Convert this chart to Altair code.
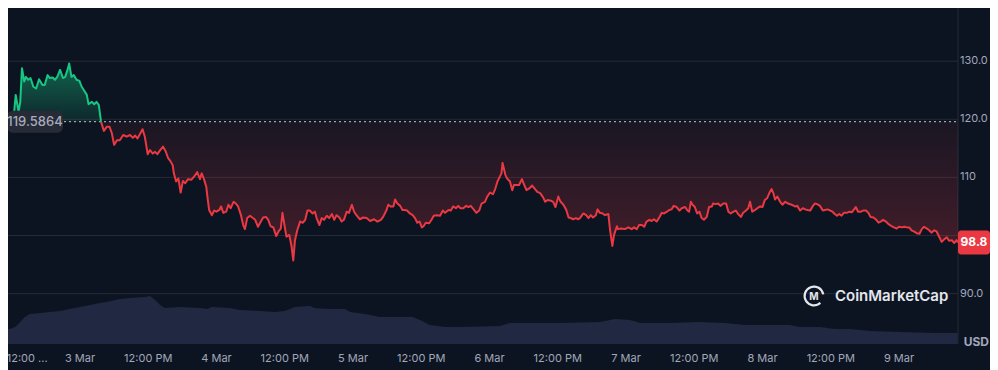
import altair as alt
import pandas as pd

# ---------------- data ----------------
# hours since 3 Mar 00:00
HOURS = [
    -13.0, -11.7, -11.3, -10.8, -10.5, -10.2, -9.8, -9.5, -9.1, -8.7,
    -8.2, -7.7, -7.2, -6.6, -6.2, -5.7, -5.3, -4.8, -4.4, -4.0,
    -3.5, -3.0, -2.6, -2.2, -1.9, -1.5, -1.1, -0.6, -0.1, 0.3,
    0.7, 1.2, 1.5, 2.1, 2.5, 2.9, 3.3, 3.7, 4.2, 4.7,
    5.2, 5.6, 6.0, 6.5, 7.0, 7.6, 8.2, 8.8, 9.3, 9.7,
    10.1, 10.5, 11.0, 11.4, 11.9, 12.3, 12.8, 13.2, 13.6, 14.1,
    14.6, 15.1, 15.5, 15.9, 16.3, 16.5, 16.9, 17.3, 17.7, 18.1,
    18.5, 19.0, 19.6, 20.2, 20.6, 21.1, 21.4, 21.8, 22.2, 22.4,
    22.7, 23.2, 23.6, 24.0, 24.5, 24.8, 25.2, 25.7, 26.1, 26.5,
    27.0, 27.4, 27.8, 28.3, 28.7, 29.0, 29.4, 29.9, 30.4, 30.8,
    31.3, 31.8, 32.2, 32.7, 33.1, 33.5, 34.0, 34.5, 34.9, 35.3,
    35.6, 36.0, 36.3, 36.8, 37.2, 37.5, 37.8, 38.2, 38.7, 39.2,
    39.6, 40.0, 40.4, 40.9, 41.3, 41.6, 42.1, 42.5, 42.9, 43.4,
    43.8, 44.3, 44.7, 45.1, 45.6, 46.0, 46.4, 46.9, 47.3, 47.8,
    48.2, 48.6, 49.2, 49.8, 50.4, 51.0, 51.7, 52.3, 52.9, 53.3,
    53.9, 54.2, 54.6, 55.1, 55.4, 55.8, 56.3, 56.7, 57.1, 57.5,
    58.0, 58.5, 58.9, 59.3, 59.7, 60.1, 60.4, 60.8, 61.4, 61.8,
    62.2, 62.7, 63.3, 63.8, 64.2, 64.8, 65.2, 65.6, 66.1, 66.5,
    66.9, 67.4, 67.9, 68.3, 68.7, 69.2, 69.7, 70.2, 70.6, 71.2,
    71.6, 72.1, 72.6, 73.0, 73.4, 73.8, 74.1, 74.3, 74.5, 74.8,
    75.1, 75.6, 76.0, 76.3, 76.8, 77.2, 77.7, 78.1, 78.5, 79.0,
    79.5, 79.9, 80.4, 80.9, 81.4, 81.8, 82.2, 82.8, 83.2, 83.6,
    84.1, 84.5, 85.0, 85.5, 85.9, 86.3, 86.7, 87.2, 87.6, 87.9,
    88.5, 89.0, 89.4, 89.8, 90.2, 90.7, 91.0, 91.4, 91.9, 92.3,
    92.9, 93.2, 93.6, 93.9, 94.4, 94.6, 95.2, 95.8, 96.4, 97.0,
    97.4, 97.9, 98.3, 98.8, 99.2, 99.6, 100.1, 100.5, 100.9, 101.4,
    101.9, 102.3, 102.7, 103.2, 103.6, 104.0, 104.4, 104.9, 105.4, 105.8,
    106.4, 106.8, 107.1, 107.4, 107.7, 108.1, 108.5, 108.9, 109.3, 109.7,
    110.2, 110.6, 111.1, 111.3, 111.8, 112.2, 112.6, 113.1, 113.6, 114.0,
    114.4, 114.9, 115.3, 115.7, 116.2, 116.6, 117.1, 117.5, 117.8, 118.2,
    118.7, 119.1, 119.6, 120.0, 120.4, 120.8, 121.2, 121.6, 121.9, 122.2,
    122.6, 123.1, 123.5, 124.0, 124.5, 125.1, 125.7, 126.1, 126.6, 127.1,
    127.5, 127.9, 128.4, 128.8, 129.2, 129.6, 130.1, 130.6, 131.0, 131.4,
    131.9, 132.3, 132.7, 133.1, 133.5, 133.9, 134.3, 134.8, 135.3, 135.7,
    136.1, 136.4, 136.8, 137.3, 137.7, 138.2, 138.6, 139.0, 139.5, 140.0,
    140.4, 140.8, 141.2, 141.7, 142.1, 142.7, 143.1, 143.6, 144.0, 144.5,
    144.9, 145.4, 145.8, 146.2, 146.6, 147.1, 147.6, 148.0, 148.4, 148.9,
    149.3, 149.7, 150.2, 150.6, 151.1, 151.5, 151.9, 152.4, 152.8, 153.3,
    153.7, 154.1, 154.35,
]
PRICES = [
    119.6, 119.9, 124.2, 121.3, 123.0, 128.8, 126.5, 127.3, 126.8, 127.1,
    125.6, 125.3, 126.9, 125.9, 125.9, 127.6, 127.1, 127.2, 126.8, 127.3,
    128.5, 127.1, 127.3, 128.5, 129.6, 127.3, 127.6, 126.8, 126.6, 125.6,
    125.0, 124.2, 122.6, 123.0, 122.6, 123.0, 122.5, 119.6, 118.0, 118.7,
    118.7, 117.6, 115.6, 116.4, 116.4, 117.3, 117.0, 117.3, 116.8, 117.2,
    116.7, 117.4, 118.3, 117.0, 114.0, 114.7, 114.1, 114.4, 114.0, 114.7,
    115.3, 114.4, 113.3, 112.8, 112.1, 110.7, 109.3, 109.8, 107.4, 109.4,
    109.0, 109.7, 109.6, 110.3, 110.9, 109.7, 110.7, 109.7, 108.4, 106.7,
    104.4, 103.5, 104.3, 104.1, 104.4, 105.0, 103.9, 104.1, 105.3, 104.7,
    105.8, 105.5, 105.0, 103.5, 101.8, 101.1, 103.0, 103.4, 103.0, 102.7,
    101.5, 102.4, 103.1, 103.2, 102.7, 101.6, 101.4, 99.9, 100.7, 101.2,
    103.9, 101.5, 99.8, 100.1, 98.1, 95.7, 99.2, 100.9, 102.4, 102.2,
    102.7, 104.3, 104.3, 103.8, 104.1, 103.0, 101.8, 103.0, 102.7, 103.4,
    103.0, 103.7, 102.7, 103.5, 103.1, 102.4, 102.7, 104.1, 103.9, 105.3,
    104.1, 103.5, 102.8, 103.1, 103.0, 102.5, 102.8, 102.4, 102.7, 103.2,
    104.4, 105.3, 105.0, 105.0, 106.2, 105.5, 105.1, 104.4, 104.4, 104.3,
    103.8, 103.5, 103.0, 102.2, 102.4, 101.4, 101.6, 102.2, 102.1, 102.7,
    103.4, 103.5, 103.4, 104.3, 103.9, 104.4, 104.3, 105.0, 104.7, 105.1,
    104.7, 104.7, 105.1, 104.9, 105.1, 104.5, 103.9, 104.3, 105.5, 105.8,
    106.7, 107.4, 107.1, 108.0, 109.3, 110.1, 110.7, 112.5, 111.6, 110.4,
    109.8, 109.3, 107.8, 108.7, 108.7, 108.7, 109.7, 108.7, 107.8, 108.1,
    108.6, 108.1, 107.5, 107.3, 106.6, 105.8, 106.1, 106.0, 105.8, 104.9,
    106.7, 105.8, 105.3, 104.4, 103.1, 103.0, 102.8, 103.0, 102.8, 103.0,
    103.8, 103.5, 103.0, 103.5, 103.1, 103.5, 104.5, 103.9, 103.8, 103.5,
    103.7, 100.9, 98.2, 100.1, 101.6, 101.1, 101.2, 101.1, 101.4, 101.1,
    101.4, 101.1, 101.8, 101.8, 101.5, 102.4, 102.7, 102.5, 102.8, 102.4,
    103.2, 103.9, 103.8, 104.1, 104.4, 104.5, 105.1, 104.9, 104.3, 104.7,
    104.9, 104.3, 104.1, 105.8, 105.3, 104.9, 103.8, 104.1, 103.0, 102.7,
    103.2, 104.9, 105.0, 105.5, 105.4, 105.5, 105.1, 105.5, 105.5, 104.1,
    103.8, 104.1, 104.3, 103.7, 103.2, 103.9, 104.3, 104.7, 105.8, 104.1,
    104.4, 104.7, 105.0, 104.9, 106.1, 106.4, 107.3, 108.0, 107.3, 106.2,
    106.7, 105.8, 105.3, 105.8, 105.5, 105.3, 105.0, 105.1, 104.3, 104.7,
    104.5, 104.4, 104.3, 105.0, 105.5, 105.4, 105.1, 104.3, 104.4, 104.5,
    104.3, 104.1, 103.7, 103.4, 103.7, 103.4, 103.9, 103.9, 104.1, 104.0,
    104.5, 104.9, 104.1, 104.1, 104.3, 104.3, 103.9, 103.2, 103.1, 102.7,
    102.2, 102.4, 102.7, 102.4, 102.0, 101.6, 101.4, 101.2, 101.5, 101.4,
    101.5, 101.4, 101.4, 100.9, 100.7, 100.4, 100.3, 101.1, 101.5, 101.2,
    100.9, 100.5, 100.9, 100.7, 99.7, 98.9, 99.3, 99.7, 99.1, 99.2,
    98.7, 99.2, 98.8,
]
VOL_HOURS = [
    -13.3, -12.3, -11.4, -10.5, -9.7, -8.8, -7.0, -5.3, -3.5, -1.8,
    0.0, 1.8, 3.5, 4.7, 7.0, 8.8, 11.4, 12.3, 13.2, 14.1,
    14.9, 17.6, 21.1, 22.3, 23.2, 26.4, 28.1, 31.6, 34.3, 36.0,
    37.8, 40.4, 41.3, 44.0, 46.6, 47.5, 50.1, 52.7, 56.3, 58.5,
    59.8, 61.5, 64.2, 66.8, 73.8, 75.6, 79.1, 84.4, 91.4, 93.2,
    94.1, 96.7, 98.5, 103.7, 109.0, 113.4, 116.9, 121.3, 124.8, 126.6,
    130.1, 132.7, 135.4, 138.9, 144.2, 150.3, 154.3,
]
VOLUMES = [
    15, 15, 17, 22, 27, 30, 31, 32, 33, 35,
    37, 39, 41, 42, 45, 46, 47, 48, 44, 39,
    36, 37, 36, 35, 37, 36, 34, 33, 32, 33,
    37, 38, 36, 35, 35, 32, 30, 27, 27, 27,
    24, 19, 17, 17, 18, 21, 21, 21, 22, 24,
    25, 24, 21, 21, 22, 21, 19, 19, 19, 17,
    17, 15, 15, 13, 12, 11, 11,
]
BASELINE = 119.5864
LAST_PRICE = 98.8
X_TICKS = [-12, 0, 12, 24, 36, 48, 60, 72, 84, 96, 108, 120, 132, 144]
X_LABELS = ["12:00 ...", "3 Mar", "12:00 PM", "4 Mar", "12:00 PM", "5 Mar",
            "12:00 PM", "6 Mar", "12:00 PM", "7 Mar", "12:00 PM", "8 Mar",
            "12:00 PM", "9 Mar"]
Y_TICKS = [90, 100, 110, 120, 130, 140]
Y_LABELS = ["90.0", "", "110", "120.0", "130.0", ""]

X_DOMAIN = [-13.36, 154.37]
Y_DOMAIN = [81.33, 140.53]
VOL_MAX = 344  # volume value that would fill the whole panel height

# ---------------- style ----------------
BG = "#0d1421"
GREEN = "#16c784"
RED = "#ea3943"
GRID = "#262a35"
LABEL = "#a1a7bb"
FONT = "Inter"
W, H = 954, 344

df = pd.DataFrame({"h": HOURS, "price": PRICES})
df["base"] = BASELINE
df["hi"] = df["price"].clip(lower=BASELINE)
df["lo"] = df["price"].clip(upper=BASELINE)
cut = df.index[df["price"] >= BASELINE].max()
up_df = df.loc[:cut]
down_df = df.loc[cut:]
vol_df = pd.DataFrame({"h": VOL_HOURS, "vol": VOLUMES})
xt_df = pd.DataFrame({"h": X_TICKS, "t": X_LABELS})
yt_df = pd.DataFrame({"v": Y_TICKS, "t": Y_LABELS})

xs = alt.Scale(domain=X_DOMAIN, nice=False, zero=False)
ys = alt.Scale(domain=Y_DOMAIN, nice=False, zero=False)
X = alt.X("h:Q", scale=xs, axis=None, title=None)


def Y(field):
    return alt.Y(field, scale=ys, axis=None, title=None)


# ----- axis furniture drawn through the scales -----
grid = alt.Chart(yt_df).mark_rule(color=GRID, strokeWidth=1).encode(
    y=Y("v:Q"), x=alt.value(0), x2=alt.value(W)
)
right_domain = alt.Chart(yt_df.head(1)).mark_rule(color=GRID, strokeWidth=1).encode(
    x=alt.value(W), y=alt.value(0), y2=alt.value(H)
)
y_labels = alt.Chart(yt_df).mark_text(
    align="left", baseline="middle", color=LABEL, font=FONT, fontSize=11
).encode(y=Y("v:Q"), x=alt.value(W + 2), text="t:N")
x_first = alt.Chart(xt_df.head(1)).mark_text(
    align="left", baseline="middle", color=LABEL, font=FONT, fontSize=11, dx=-5
).encode(x=X, y=alt.value(359), text="t:N")
x_rest = alt.Chart(xt_df.iloc[1:]).mark_text(
    align="center", baseline="middle", color=LABEL, font=FONT, fontSize=11
).encode(x=X, y=alt.value(359), text="t:N")

red_grad = alt.Gradient(
    gradient="linear", x1=1, x2=1, y1=0, y2=1,
    stops=[alt.GradientStop(color="rgba(234,57,67,0.06)", offset=0),
           alt.GradientStop(color="rgba(234,57,67,0.26)", offset=1)],
)
green_grad = alt.Gradient(
    gradient="linear", x1=1, x2=1, y1=0, y2=1,
    stops=[alt.GradientStop(color="rgba(22,199,132,0.45)", offset=0),
           alt.GradientStop(color="rgba(22,199,132,0.10)", offset=1)],
)

# volume drawn in the lower band with its own linear mapping
vol = alt.Chart(vol_df).transform_calculate(
    vy=f"{Y_DOMAIN[0]} + datum.vol * {(Y_DOMAIN[1] - Y_DOMAIN[0]) / VOL_MAX}",
    vb=f"{Y_DOMAIN[0]}",
).mark_area(color="#212842").encode(x=X, y=Y("vy:Q"), y2="vb:Q")

red_area = alt.Chart(df).mark_area(color=red_grad).encode(
    x=X, y=Y("lo:Q"), y2="base:Q"
)
green_area = alt.Chart(df).mark_area(color=green_grad).encode(
    x=X, y=Y("hi:Q"), y2="base:Q"
)

base_df = pd.DataFrame({"v": [BASELINE], "hi": [BASELINE + 1.9],
                        "lo": [BASELINE - 1.9], "t": [f"{BASELINE}"]})
base_rule = alt.Chart(base_df).mark_rule(
    color="#c3c8d2", strokeDash=[2, 3], strokeWidth=1
).encode(y=Y("v:Q"), x=alt.value(0), x2=alt.value(W))

red_line = alt.Chart(down_df).mark_line(
    color=RED, strokeWidth=2, strokeJoin="round"
).encode(x=X, y=Y("price:Q"))
green_line = alt.Chart(up_df).mark_line(
    color=GREEN, strokeWidth=2, strokeJoin="round"
).encode(x=X, y=Y("price:Q"))

tag_df = pd.DataFrame({"v": [LAST_PRICE], "hi": [LAST_PRICE + 2.07],
                       "lo": [LAST_PRICE - 2.07], "t": [f"{LAST_PRICE}"]})
tag_rect = alt.Chart(tag_df).mark_rect(color=RED, cornerRadius=3).encode(
    x=alt.value(954), x2=alt.value(986), y=Y("hi:Q"), y2="lo:Q"
)
tag_text = alt.Chart(tag_df).mark_text(
    color="white", font=FONT, fontSize=12, fontWeight="bold"
).encode(x=alt.value(970), y=Y("v:Q"), text="t:N")

base_box = alt.Chart(base_df).mark_rect(color="#272b37", cornerRadius=6).encode(
    x=alt.value(3), x2=alt.value(59), y=Y("hi:Q"), y2="lo:Q"
)
base_text = alt.Chart(base_df).mark_text(
    color="#a6acbb", font=FONT, fontSize=13, fontWeight=500
).encode(x=alt.value(31), y=Y("v:Q"), text="t:N")

one = pd.DataFrame({"t": ["USD"]})
usd = alt.Chart(one).mark_text(
    color=LABEL, font=FONT, fontSize=12, fontWeight="bold", align="right"
).encode(x=alt.value(985), y=alt.value(342), text="t:N")

logo_arc = alt.Chart(one).mark_arc(
    radius=10.5, radius2=8.3, theta=2.4, theta2=7.68, color="#e3e6ec"
).encode(x=alt.value(810), y=alt.value(296))
logo_m = alt.Chart(pd.DataFrame({"t": ["M"]})).mark_text(
    color="#e3e6ec", font=FONT, fontSize=10, fontWeight="bold"
).encode(x=alt.value(810), y=alt.value(297), text="t:N")
wm = alt.Chart(pd.DataFrame({"t": ["CoinMarketCap"]})).mark_text(
    color="#e3e6ec", font=FONT, fontSize=15, fontWeight=600, align="left"
).encode(x=alt.value(831), y=alt.value(296), text="t:N")

chart = (
    alt.layer(grid, right_domain, vol, red_area, green_area, base_rule,
              red_line, green_line, y_labels, x_first, x_rest,
              tag_rect, tag_text, base_box, base_text, usd,
              logo_arc, logo_m, wm)
    .properties(
        width=W, height=H,
        padding={"left": -4, "top": -8, "right": 32, "bottom": 26},
        autosize=alt.AutoSizeParams(type="none"),
        background=BG,
    )
    .configure(font=FONT)
    .configure_view(stroke=None)
)

chart.save("out.html", embed_options={"renderer": "svg", "actions": False})
